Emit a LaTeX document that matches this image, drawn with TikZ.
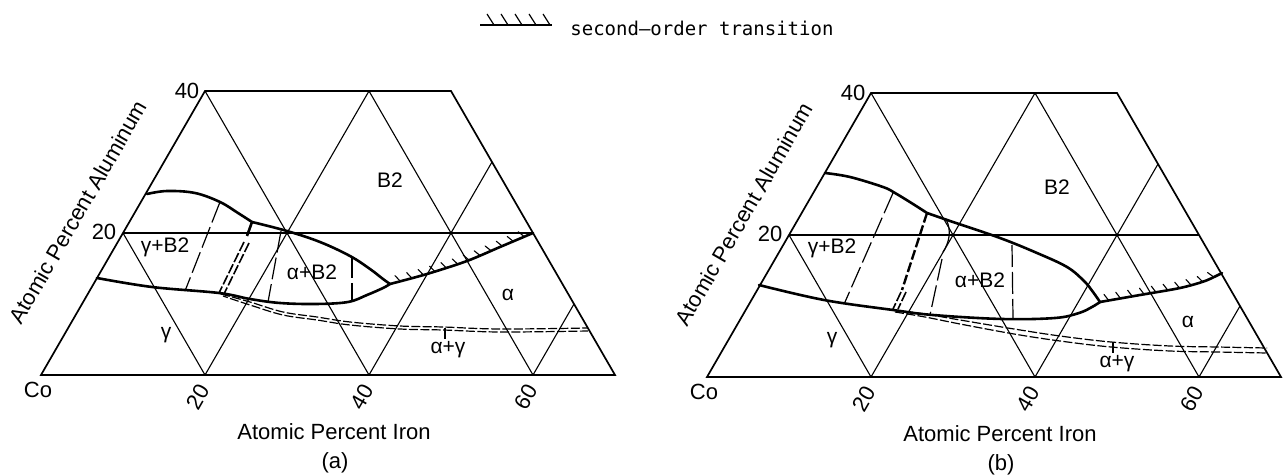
\documentclass[tikz,border=0pt]{standalone}
\usepackage{fontspec}
\setmainfont{Liberation Sans}
\newfontfamily\legfont{DejaVu Sans Mono}
\usetikzlibrary{decorations.markings}
\begin{document}
\begin{tikzpicture}[x=0.5pt,y=-0.5pt,
  gridline/.style={line width=0.55pt},
  frame/.style={line width=0.85pt, line join=miter},
  phase/.style={line width=1.3pt, line join=round, line cap=round},
  tie/.style={line width=0.6pt, dash pattern=on 11pt off 2.5pt},
  boldtie/.style={line width=1.2pt, dash pattern=on 5pt off 1.5pt},
  dbl/.style={line width=0.6pt, dash pattern=on 4.5pt off 1.2pt},
  dblbold/.style={line width=0.8pt, dash pattern=on 5pt off 1.2pt},
  lab/.style={font=\fontsize{10.5}{12}\selectfont, inner sep=0pt},
  axlab/.style={font=\fontsize{11}{13}\selectfont, inner sep=0pt},
  tickmark/.style={line width=0.55pt, solid},
  hatchline/.style={phase, postaction={decorate}, decoration={markings,
     mark=between positions 0.07 and 0.98 step 6pt with {\draw[tickmark] (0pt,0pt) -- (-1.8pt,3.4pt);}}},
]
\fill[white] (0,0) rectangle (1284,475);
\useasboundingbox (0,0) rectangle (1284,475);

% ---------- legend ----------
\coordinate (legA) at (480,25);
\coordinate (legB) at (552,25);
\draw[line width=0.7pt] (legA) -- (legB);
\foreach \x in {494,508,522,536,550} \draw[line width=0.6pt] (\x,25) -- (\x-7,14);
\node[anchor=base west, inner sep=0pt, font=\legfont\fontsize{9.5}{11}\selectfont] (legtext) at (570,36) {second–order transition};

% ---------- grids (both panels) ----------
\foreach \p/\dx/\dy/\tag in {a/0/0/(a),b/666/2/(b)}{
\begin{scope}[shift={(\dx,\dy)}]
  \coordinate (\p-Co) at (41,375);
  \coordinate (\p-F20) at (205,375);
  \coordinate (\p-F40) at (369,375);
  \coordinate (\p-F60) at (533,375);
  \coordinate (\p-F70) at (615,375);
  \coordinate (\p-A20) at (123,233);
  \coordinate (\p-A40) at (205,91);
  \coordinate (\p-T2) at (369,91);
  \coordinate (\p-TR) at (451,91);
  \coordinate (\p-R20) at (533,233);
  \coordinate (\p-R30) at (492,162);
  \coordinate (\p-R10) at (574,304);
  \draw[gridline] (\p-A20) -- (\p-R20);
  \draw[gridline] (\p-F20) -- (\p-A20);
  \draw[gridline] (\p-F40) -- (\p-A40);
  \draw[gridline] (\p-F60) -- (\p-T2);
  \draw[gridline] (\p-F20) -- (\p-T2);
  \draw[gridline] (\p-F40) -- (\p-R30);
  \draw[gridline] (\p-F60) -- (\p-R10);
  \draw[frame] (\p-Co) -- (\p-F70) -- (\p-TR) -- (\p-A40) -- cycle;
  \node[axlab] (\p-lCo) at (38,390) {Co};
  \node[axlab, rotate=60] (\p-l20) at (198,397) {20};
  \node[axlab, rotate=60] (\p-l40) at (362,397) {40};
  \node[axlab, rotate=60] (\p-l60) at (526,397) {60};
  \node[axlab] (\p-lA40) at (187,91) {40};
  \node[axlab] (\p-lA20) at (104,232) {20};
  \node[axlab, rotate=60] (\p-ttlAl) at (78,212) {Atomic Percent Aluminum};
  \node[axlab] (\p-ttlFe) at (334,432) {Atomic Percent Iron};
  \node[axlab] (\p-tag) at (335,463) {\tag};
\end{scope}
}

% ---------- panel (a) ----------
\coordinate (aU0) at (147,194);
\coordinate (aK) at (252,222);
\coordinate (aJ) at (390,284);
\coordinate (aL0) at (97,278);
\coordinate (aD0) at (219,293);
\draw[phase] plot[smooth, tension=0.6] coordinates {(aU0) (167,191) (195,193) (220,202) (238,213) (aK)};
\draw[phase] plot[smooth, tension=0.6] coordinates {(aK) (287,231) (320,242) (350,256) (370,269) (383,279) (aJ)};
\draw[phase] plot[smooth, tension=0.6] coordinates {(aL0) (152,287) (aD0) (250,299) (280,303) (316,304) (348,302) (367,295) (383,288) (aJ)};
\draw[hatchline] plot[smooth, tension=0.5] coordinates {(aJ) (427,274) (467,261) (500,247) (a-R20)};
% alpha+gamma dashed pair
\draw[dbl] plot[smooth, tension=0.6] coordinates {(221,294) (250,302) (283,312) (317,317) (350,322) (400,326) (443,327) (500,329) (588,328)};
\draw[dbl, dash phase=2pt] plot[smooth, tension=0.6] coordinates {(223,296) (250,305) (283,315) (317,320) (350,325) (400,329) (443,330) (500,332) (588,331)};
% tie lines
\draw[tie] (220,202) -- (185,291);
\draw[line width=1.3pt] (aK) -- (247,236);
\draw[dblbold] (244,242) -- (219,293);
\draw[dblbold] (249,243) -- (224,294);
\draw[tie] (281,231) -- (268,302);
\draw[tie] (352,256) -- (352,302);
\draw[line width=0.6pt] (445,328) -- (445,339);
% region labels
\node[lab] (aB2) at (390,180) {B2};
\node[lab] (aGB2) at (165,247) {γ+B2};
\node[lab] (aAB2) at (312,272) {α+B2};
\node[lab] (aAl) at (508,295) {α};
\node[lab] (aGa) at (166,335) {γ};
\node[lab] (aAG) at (448,350) {α+γ};

% ---------- panel (b) ----------
\coordinate (bU0) at (825,173);
\coordinate (bK) at (927,213);
\coordinate (bJ) at (1100,302);
\coordinate (bL0) at (759,285);
\draw[phase] plot[smooth, tension=0.6] coordinates {(bU0) (850,177) (883,187) (895,193) (913,204) (bK)};
\draw[phase] plot[smooth, tension=0.6] coordinates {(bK) (953,222) (1000,238) (1037,253) (1067,267) (1084,281) (1093,292) (bJ)};
\draw[phase] plot[smooth, tension=0.6] coordinates {(bL0) (824,300) (893,310) (933,315) (1002,319) (1055,318) (1079,313) (1092,307) (bJ)};
\draw[hatchline] plot[smooth, tension=0.5] coordinates {(bJ) (1140,295) (1180,288) (1205,281) (1222,273)};
% alpha+gamma dashed pair
\draw[dbl] plot[smooth, tension=0.6] coordinates {(893,310) (925,314) (960,320) (1014,329) (1060,336) (1111,342) (1170,346) (1217,347) (1267,348)};
\draw[dbl] plot[smooth, tension=0.6] coordinates {(895,312) (925,317) (960,324) (1014,334) (1060,341) (1111,347) (1170,351) (1217,352) (1267,353)};
% tie lines
\draw[tie] (893,193) -- (845,302);
\draw[boldtie] (bK) -- (902,290);
\draw[dblbold] (901,292) -- (893,309);
\draw[dblbold] (906,292) -- (898,309);
\draw[line width=0.6pt] (946,219) .. controls (952,231) and (949,243) .. (943,252);
\draw[tie] (942,259) -- (930,315);
\draw[tie] (1012,245) -- (1013,318);
\draw[line width=0.6pt] (1113,342) -- (1113,353);
% region labels
\node[lab] (bB2) at (1057,187) {B2};
\node[lab] (bGB2) at (832,248) {γ+B2};
\node[lab] (bAB2) at (980,280) {α+B2};
\node[lab] (bAl) at (1188,322) {α};
\node[lab] (bGa) at (832,340) {γ};
\node[lab] (bAG) at (1117,364) {α+γ};
\end{tikzpicture}
\end{document}
